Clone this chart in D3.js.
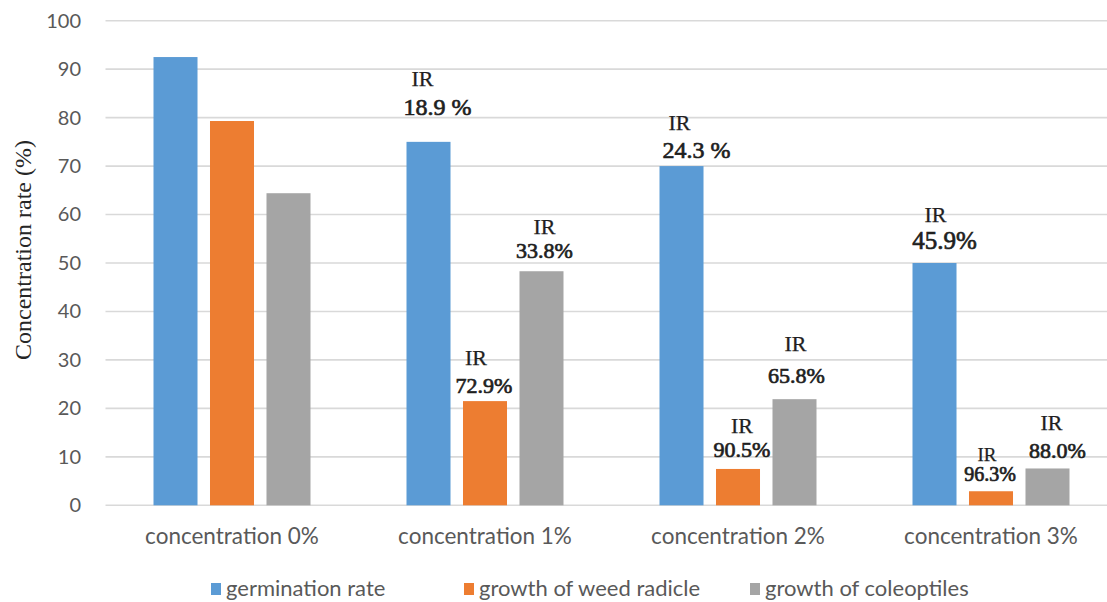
<!DOCTYPE html>
<html>
<head>
<meta charset="utf-8">
<script src="https://cdn.jsdelivr.net/npm/d3@7"></script>
<style>
  html, body { margin: 0; padding: 0; background: #fff; }
  svg { display: block; }
  .tick-label { font-family: Lato, "Open Sans", sans-serif; fill: #595959; }
  .ir { font-family: "Liberation Serif", serif; fill: #1f1f1f; stroke: #1f1f1f; }
</style>
</head>
<body>
<svg id="chart" width="1107" height="602"></svg>
<script>
// Data
const categories = ["concentration 0%", "concentration 1%", "concentration 2%", "concentration 3%"];
const seriesNames = ["germination rate", "growth of weed radicle", "growth of coleoptiles"];
const germination = [92.5, 75.0, 70.0, 50.0];
const radicle = [79.3, 21.5, 7.5, 2.9];
const coleoptile = [64.4, 48.3, 21.9, 7.6];
const yTicks = [0, 10, 20, 30, 40, 50, 60, 70, 80, 90, 100];
// Inhibition-rate annotations: [series index, category index, text]
const irLabels = [
  [0, 1, "18.9 %"], [1, 1, "72.9%"], [2, 1, "33.8%"],
  [0, 2, "24.3 %"], [1, 2, "90.5%"], [2, 2, "65.8%"],
  [0, 3, "45.9%"],  [1, 3, "96.3%"], [2, 3, "88.0%"]
];

const colors = ["#5B9BD5", "#ED7D31", "#A5A5A5"];
const values = [germination, radicle, coleoptile];

// Annotation placement relative to bar centre / bar top:
// [IR dx, IR dy, value dx, value dy, IR size, value size]
const irPlacement = {
  "0-1": [-6, -64, 9, -35, 22, 24],
  "1-1": [-9, -44, -1, -16, 22, 22],
  "2-1": [3, -45, 3, -21, 22, 22],
  "0-2": [-2, -44, 15, -16, 22, 24],
  "1-2": [4, -44, 4, -20, 22, 22],
  "2-2": [1, -56, 2, -24, 22, 22],
  "0-3": [1, -49, 10, -23, 22, 25],
  "1-3": [-4, -37, -1, -17, 19, 20],
  "2-3": [4, -46, 10, -18, 22, 22]
};

const svg = d3.select("#chart");
const plotTop = 20.7, plotBottom = 505.3;

const x = d3.scaleBand().domain(categories).range([105.5, 1117.5]).paddingInner(0).paddingOuter(0);
const xs = d3.scaleBand().domain(d3.range(seriesNames.length))
  .range([48, x.bandwidth() - 48]).paddingInner(0.221).paddingOuter(0);
const y = d3.scaleLinear().domain([0, 100]).range([plotBottom, plotTop]);

// Gridlines
svg.append("g").selectAll("line").data(yTicks).join("line")
  .attr("x1", 105.5).attr("x2", 1107)
  .attr("y1", d => y(d)).attr("y2", d => y(d))
  .attr("stroke", "#d9d9d9").attr("stroke-width", 1.6);

// Y axis tick labels
const yAxis = d3.axisLeft(y).tickValues(yTicks).tickSize(0).tickPadding(0);
const gy = svg.append("g").attr("transform", "translate(81,0)").call(yAxis);
gy.select(".domain").remove();
gy.selectAll("text").attr("class", "tick-label").attr("font-size", 20);

// Y title
svg.append("text")
  .attr("transform", "translate(23,250) rotate(-90)")
  .attr("text-anchor", "middle")
  .attr("dy", "0.35em")
  .attr("font-family", "Liberation Serif, serif")
  .attr("font-size", 24)
  .attr("fill", "#262626")
  .text("Concentration rate (%)");

// X axis labels
const xAxis = d3.axisBottom(x).tickSize(0).tickPadding(0);
const gx = svg.append("g").attr("transform", "translate(0,528)").call(xAxis);
gx.select(".domain").remove();
gx.selectAll("text").attr("class", "tick-label").attr("font-size", 22.5).attr("dy", "0.71em");

// Bars
const groups = svg.append("g").selectAll("g").data(categories).join("g")
  .attr("transform", d => `translate(${x(d)},0)`);
groups.selectAll("rect")
  .data((c, ci) => values.map((vals, si) => ({ si, v: vals[ci] })))
  .join("rect")
  .attr("x", d => xs(d.si))
  .attr("width", xs.bandwidth())
  .attr("y", d => y(d.v))
  .attr("height", d => y(0) - y(d.v))
  .attr("fill", d => colors[d.si]);

// IR annotations
const ann = svg.append("g");
irLabels.forEach(([si, ci, txt]) => {
  const p = irPlacement[`${si}-${ci}`];
  const cx = x(categories[ci]) + xs(si) + xs.bandwidth() / 2;
  const top = y(values[si][ci]);
  ann.append("text").attr("class", "ir")
    .attr("x", cx + p[0]).attr("y", top + p[1])
    .attr("dy", "0.35em").attr("text-anchor", "middle")
    .attr("font-size", p[4]).attr("stroke-width", 0.25).text("IR");
  ann.append("text").attr("class", "ir")
    .attr("x", cx + p[2]).attr("y", top + p[3])
    .attr("dy", "0.35em").attr("text-anchor", "middle")
    .attr("font-size", p[5]).attr("stroke-width", 0.7).text(txt);
});

// Legend
const legendX = [211, 464, 750];
const lg = svg.append("g").selectAll("g").data(seriesNames).join("g")
  .attr("transform", (d, i) => `translate(${legendX[i]},588)`);
lg.append("rect").attr("x", 0).attr("y", -5).attr("width", 10).attr("height", 12)
  .attr("fill", (d, i) => colors[i]);
lg.append("text").attr("class", "tick-label").attr("x", 15).attr("dy", "0.35em")
  .attr("font-size", 22).text(d => d);
</script>
</body>
</html>
